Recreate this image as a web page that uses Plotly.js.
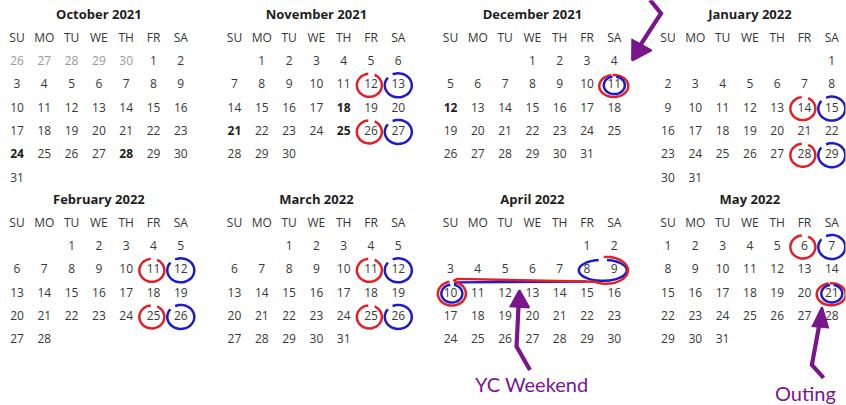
<!DOCTYPE html>
<html><head><meta charset="utf-8">
<script src="https://cdn.plot.ly/plotly-3.0.1.min.js"></script>
<style>html,body{margin:0;padding:0;background:#fff}#chart{width:846px;height:405px}</style>
</head><body><div id="chart"></div>
<script>
// ---------- data ----------
const monthNames   = ['October 2021','November 2021','December 2021','January 2022','February 2022','March 2022','April 2022','May 2022'];
const firstWeekday = [5,1,3,6,2,2,5,0];          // 0 = Sunday
const daysInMonth  = [31,30,31,31,28,31,30,31];
const weekdayLabels = ['SU','MO','TU','WE','TH','FR','SA'];
const leadingDays  = [[26,27,28,29,30],[],[],[],[],[],[],[]];   // greyed days of previous month
const boldDays     = [[24,28],[18,21,25],[12],[],[],[],[],[]];
const redCircled   = [[],[12,26],[],[14,28],[11,25],[11,25],[],[6]];   // Fridays
const blueCircled  = [[],[13,27],[],[15,29],[12,26],[12,26],[],[7]];   // Saturdays
const doubleCircled= [[],[],[11],[],[],[],[10],[21]];                  // blue inside red
const ycWeekend    = {month:6, days:[8,9,10]};
const notes = [
  {label:'YC Weekend', month:6, day:12},
  {label:'Outing',     month:7, day:21}
];

// ---------- layout constants ----------
const W = 846, H = 405;
const COLW = 27.3, ROWH = 23.3;
const colX0 = [17, 234.5, 450.5, 668];
const rowY0 = [62, 247];
const FONT = 'Open Sans, Noto Sans, sans-serif';
const RED = 'rgb(226,32,38)', BLUE = 'rgb(28,28,200)', PURPLE = 'rgb(122,22,140)';

function cell(m, d){
  const idx = firstWeekday[m] + d - 1;
  return {x: idx % 7, y: Math.floor(idx / 7)};
}
function arc(cx, cy, rxPx, ryPx, a0, a1){
  const xs = [], ys = [];
  const n = Math.max(8, Math.round(Math.abs(a1 - a0) / 8));
  for(let k = 0; k <= n; k++){
    const a = (a0 + (a1 - a0) * k / n) * Math.PI / 180;
    xs.push(cx + rxPx / COLW * Math.cos(a));
    ys.push(cy - ryPx / ROWH * Math.sin(a));
  }
  return {xs, ys};
}

const traces = [];
const layout = {
  width: W, height: H, margin: {l:0, r:0, t:0, b:0},
  paper_bgcolor: '#fff', plot_bgcolor: 'rgba(0,0,0,0)',
  showlegend: false, annotations: [], hovermode: false
};

for(let m = 0; m < 8; m++){
  const gc = m % 4, gr = Math.floor(m / 4);
  const x0 = colX0[gc], y0 = rowY0[gr];
  const xn = m === 0 ? '' : String(m + 1);
  const xa = 'x' + xn, ya = 'y' + xn;
  let xmin = Math.max(-0.65, (0.5 - x0) / COLW);
  let xmax = Math.min(6.65, (W - 0.5 - x0) / COLW);
  if(m === 2) xmax = 7.9;
  const ymin = gr === 0 ? -2.65 : -2.6;
  const ymax = gr === 0 ? 5.6 : 6.5;
  const dl = (x0 + xmin * COLW) / W, dr = (x0 + xmax * COLW) / W;
  const dt = (y0 + ymin * ROWH), db = (y0 + ymax * ROWH);
  layout['xaxis' + xn] = {domain:[dl, dr], range:[xmin, xmax], visible:false, fixedrange:true, anchor: ya};
  layout['yaxis' + xn] = {domain:[1 - db / H, 1 - dt / H], range:[ymax, ymin], visible:false, fixedrange:true, anchor: xa};

  const base = {xaxis: xa, yaxis: ya, mode:'text', hoverinfo:'skip', cliponaxis:false, textposition:'middle center'};
  traces.push(Object.assign({}, base, {x:[3], y:[-2], text:[monthNames[m]],
    textfont:{family:FONT, size:13, color:'#1e1e1e', weight:'bold'}}));
  traces.push(Object.assign({}, base, {x:[0,1,2,3,4,5,6], y:weekdayLabels.map(()=>-1), text:weekdayLabels,
    textfont:{family:FONT, size:12, color:'#363636'}}));
  if(leadingDays[m].length){
    traces.push(Object.assign({}, base, {x:leadingDays[m].map((d,i)=>i), y:leadingDays[m].map(()=>0),
      text:leadingDays[m].map(String), textfont:{family:FONT, size:12, color:'#9a9a9a'}}));
  }
  const nx=[],ny=[],nt=[],bx=[],by=[],bt=[];
  for(let d = 1; d <= daysInMonth[m]; d++){
    const c = cell(m, d);
    if(boldDays[m].includes(d)){ bx.push(c.x); by.push(c.y); bt.push(String(d)); }
    else { nx.push(c.x); ny.push(c.y); nt.push(String(d)); }
  }
  traces.push(Object.assign({}, base, {x:nx, y:ny, text:nt, textfont:{family:FONT, size:12, color:'#383838'}}));
  if(bx.length) traces.push(Object.assign({}, base, {x:bx, y:by, text:bt, textfont:{family:FONT, size:12, color:'#1e1e1e', weight:'bold'}}));

  const lineTrace = (xs, ys, color, w) => ({xaxis:xa, yaxis:ya, x:xs, y:ys, mode:'lines', hoverinfo:'skip',
    line:{color:color, width:w || 2.5, shape:'spline', smoothing:0.6}});
  redCircled[m].forEach(d => { const c = cell(m,d); const a = arc(c.x - 0.06, c.y, 12.5, 11.5, 95, 425); traces.push(lineTrace(a.xs, a.ys, RED)); });
  blueCircled[m].forEach(d => { const c = cell(m,d); const a = arc(c.x, c.y, 13.5, 12, 140, 475); traces.push(lineTrace(a.xs, a.ys, BLUE)); });
  doubleCircled[m].forEach(d => {
    if(m === ycWeekend.month) return;
    const c = cell(m,d);
    const r = arc(c.x - 0.02, c.y + 0.03, 14.5, 11, 100, 455); traces.push(lineTrace(r.xs, r.ys, RED));
    const b = arc(c.x, c.y, 10.5, 8.8, 100, 440); traces.push(lineTrace(b.xs, b.ys, BLUE));
  });

  if(m === ycWeekend.month){
    const c8 = cell(m, ycWeekend.days[0]), c9 = cell(m, ycWeekend.days[1]), c10 = cell(m, ycWeekend.days[2]);
    const mx = (c8.x + c9.x) / 2 + 0.08, my = c8.y;
    // blue: ellipse round 8-9, line back to 10, circle round 10
    const b89 = arc(mx, my, 24, 10.5, 100, 440); traces.push(lineTrace(b89.xs, b89.ys, BLUE));
    traces.push(Object.assign(lineTrace([mx - 0.6, c10.x + 0.24, c10.x + 0.13], [my + 0.48, my + 0.52, my + 0.6], BLUE), {line:{color:BLUE, width:2.4}}));
    const b10 = arc(c10.x + 0.05, c10.y, 10.5, 9, 98, 438); traces.push(lineTrace(b10.xs, b10.ys, BLUE));
    // red: outer arc over 8-9, line back to 10, circle round 10
    const ra = arc(mx + 0.12, my, 22, 13.5, 96, -122);
    const rx = ra.xs.concat([c10.x + 0.24, c10.x + 0.1]);
    const ry = ra.ys.concat([my + 0.37, my + 0.46]);
    traces.push(Object.assign(lineTrace(rx, ry, RED), {line:{color:RED, width:2.4}}));
    const r10 = arc(c10.x + 0.05, c10.y, 14, 12, 100, 440); traces.push(lineTrace(r10.xs, r10.ys, RED));
  }
}

// ---------- purple arrows (relative to the dates they point to) ----------
function arrow(m, day, tip, shaft, wings){
  const c = cell(m, day);
  const xn = m === 0 ? '' : String(m + 1);
  const P = p => [c.x + p[0], c.y + p[1]];
  const pts = shaft.map(P);
  traces.push({xaxis:'x'+xn, yaxis:'y'+xn, mode:'lines', hoverinfo:'skip',
    x: pts.map(p=>p[0]), y: pts.map(p=>p[1]), line:{color:PURPLE, width:4.2}});
  const head = [tip, wings[0], wings[1], tip].map(P);
  traces.push({xaxis:'x'+xn, yaxis:'y'+xn, mode:'lines', hoverinfo:'skip', fill:'toself', fillcolor:PURPLE,
    x: head.map(p=>p[0]), y: head.map(p=>p[1]), line:{color:PURPLE, width:2}});
}
arrow(2, 11, [0.65, -1.06], [[1.31,-3.66],[1.71,-3.09],[0.72,-1.3]], [[0.66,-1.95],[1.36,-1.5]]);
arrow(6, 12, [0.52, -0.15], [[0.91,3.28],[0.42,2.27],[0.5,0.3]], [[0.2,0.55],[0.88,0.6]]);
arrow(7, 21, [-0.36, 0.58], [[-0.30,3.62],[-0.73,3.06],[-0.42,1.1]], [[-0.70,1.4],[-0.14,1.45]]);

const notePos = [{dx:0.95, dy:3.88}, {dx:-0.98, dy:4.27}];
notes.forEach((n, i) => {
  const c = cell(n.month, n.day);
  const xn = n.month === 0 ? '' : String(n.month + 1);
  layout.annotations.push({xref:'x'+xn, yref:'y'+xn, x:c.x + notePos[i].dx, y:c.y + notePos[i].dy,
    text:n.label, showarrow:false, xanchor:'center', yanchor:'middle',
    font:{family:'Lato, sans-serif', size:20, color:PURPLE}});
});

Plotly.newPlot('chart', traces, layout, {staticPlot:true, displayModeBar:false});
</script></body></html>
